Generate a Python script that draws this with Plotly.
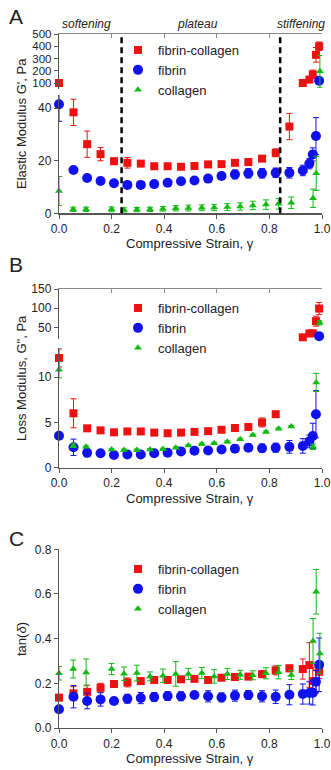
import plotly.graph_objects as go

# ---------------- data ----------------
fc_x = [0.0, 0.055, 0.107, 0.158, 0.209, 0.260, 0.311, 0.362, 0.413, 0.464, 0.515, 0.567,
        0.618, 0.669, 0.720, 0.772, 0.824, 0.876, 0.927, 0.952, 0.965, 0.977, 0.989]
fib_x = fc_x
col_x = [0.0, 0.054, 0.103, 0.200, 0.247, 0.296, 0.346, 0.395, 0.444, 0.492, 0.543, 0.590,
         0.640, 0.689, 0.737, 0.787, 0.835, 0.883, 0.966, 0.978, 0.992]

# Elastic modulus G' (Pa)
fc_G1 = [100, 38.4, 26.3, 22.5, 19.8, 19.2, 18.9, 17.9, 17.9, 17.7, 18.0, 18.6, 18.7, 19.2,
         19.5, 20.8, 23.0, 33.0, 100, 128, 170, 330, 400]
fc_G1_err = [4, 5, 5, 2.5, 1.2, 2, 0.8, 1, 0.8, 0.8, 0.8, 0.8, 1, 0.8, 1, 1, 1.5, 5, 5, 20, 35, 60, 35]
fib_G1 = [41.5, 16.5, 13.4, 12.3, 11.4, 10.8, 10.8, 11.1, 11.6, 12.2, 12.5, 13.2, 14.2, 14.8,
          15.2, 15.2, 15.4, 15.4, 16.3, 18.9, 22.4, 29.4, 118]
fib_G1_err = [6.5, 0.5, 0.5, 0.5, 0.5, 0.5, 0.5, 0.5, 0.6, 0.8, 1.0, 1.3, 1.3, 1.7, 1.8, 1.8,
              1.8, 2.0, 2.0, 2.0, 2.5, 7.0, 5]
col_G1 = [8.5, 1.5, 1.5, 1.5, 1.3, 1.4, 1.5, 1.7, 1.9, 2.0, 2.1, 2.2, 2.4, 2.6, 3.0, 3.3, 3.6,
          4.0, 5.7, 15.2, 195]
col_G1_err = [5.5, 0.8, 0.8, 0.9, 0.8, 0.8, 0.8, 0.9, 1.0, 1.1, 1.1, 1.2, 1.3, 1.4, 1.6, 1.8,
              2.0, 2.2, 3.5, 6.5, 130]

# Loss modulus G'' (Pa)
fc_G2 = [12.1, 6.0, 4.34, 4.12, 3.9, 4.0, 4.0, 3.87, 3.8, 3.87, 3.95, 4.03, 4.18, 4.38, 4.49,
         4.99, 5.9, None, 23.9, 34.0, 34.5, 66, 99]
fc_G2_err = [1.0, 1.6, 0.2, 0.2, 0.2, 0.15, 0.3, 0.2, 0.15, 0.2, 0.2, 0.2, 0.3, 0.3, 0.2, 0.5,
             0.2, None, 2, 3, 3, 13, 16]
fib_G2 = [3.53, 2.25, 1.65, 1.6, 1.4, 1.45, 1.45, 1.6, 1.65, 1.8, 1.88, 1.9, 2.0, 2.1, 2.2,
          2.15, 2.2, 2.3, 2.4, 2.9, 3.5, 5.9, 27]
fib_G2_err = [0.3, 0.9, 0.45, 0.3, 0.2, 0.2, 0.2, 0.2, 0.2, 0.2, 0.2, 0.3, 0.35, 0.4, 0.4,
              0.45, 0.5, 0.7, 0.8, 0.7, 1.4, 2.6, 2]
col_G2 = [10.8, 2.43, 2.3, 2.0, 1.95, 1.95, 2.0, 2.05, 2.2, 2.45, 2.6, 2.7, 2.85, 3.15, 3.6,
          3.95, 4.3, 4.55, 2.3, 9.4, 62]
col_G2_err = [0.9, 0.2, 0.1, 0.1, 0.1, 0.1, 0.1, 0.1, 0.1, 0.1, 0.1, 0.1, 0.1, 0.1, 0.1, 0.1,
              0.1, 0.1, 0.3, 1.0, 6]

# tan(delta)
fc_tan = [0.136, 0.155, 0.162, 0.18, 0.197, 0.204, 0.21, 0.215, 0.215, 0.218, 0.22, 0.215,
          0.225, 0.228, 0.23, 0.241, 0.258, 0.267, 0.264, 0.282, 0.21, 0.21, 0.252]
fc_tan_err = [0.01, 0.03, 0.03, 0.02, 0.008, 0.02, 0.015, 0.008, 0.008, 0.008, 0.008, 0.008,
              0.01, 0.015, 0.008, 0.015, 0.02, 0.015, 0.045, 0.1, 0.06, 0.05, 0.03]
fib_tan = [0.084, 0.14, 0.121, 0.128, 0.121, 0.131, 0.134, 0.139, 0.143, 0.142, 0.148, 0.142,
           0.137, 0.145, 0.148, 0.142, 0.14, 0.149, 0.152, 0.157, 0.158, 0.207, 0.283]
fib_tan_err = [0.008, 0.05, 0.035, 0.03, 0.015, 0.02, 0.025, 0.02, 0.02, 0.02, 0.008, 0.025,
               0.02, 0.025, 0.02, 0.025, 0.03, 0.045, 0.045, 0.05, 0.055, 0.05, 0.12]
col_tan = [0.245, 0.264, 0.249, 0.264, 0.243, 0.246, 0.231, 0.234, 0.242, 0.242, 0.246, 0.231,
           0.242, 0.238, 0.236, 0.245, 0.25, 0.237, 0.39, 0.61, 0.334]
col_tan_err = [0.03, 0.04, 0.06, 0.025, 0.03, 0.035, 0.02, 0.03, 0.055, 0.025, 0.025, 0.03,
               0.025, 0.02, 0.02, 0.025, 0.03, 0.02, 0.1, 0.1, 0.09]

x_ticks = [0, 0.2, 0.4, 0.6, 0.8, 1.0]
x_ticktext = ["0.0", "0.2", "0.4", "0.6", "0.8", "1.0"]
regions = ["softening", "plateau", "stiffening"]
region_x = [0.105, 0.525, 0.92]
boundaries = [0.238, 0.841]

# ---------------- style ----------------
W, H = 331, 770
FONT = "Liberation Sans, Arial, sans-serif"
RED, BLUE, GREEN = "#ee1111", "#1111ee", "#11bb11"
AX = "#555555"
FR = "#8a8a8a"
series = [
    ("fibrin-collagen", RED, "square", 8),
    ("fibrin", BLUE, "circle", 10),
    ("collagen", GREEN, "triangle-up", 7),
]

def px(x):
    return x / W

def py(y):
    return 1 - y / H

XD = [px(59), px(322)]

fig = go.Figure()
layout = {}

def yax(name, top, bot, rng, tickvals, ticktext, anchor, fs=12):
    layout[name] = dict(domain=[py(bot), py(top)], range=rng, anchor=anchor, automargin=False,
                        tickvals=tickvals, ticktext=ticktext, ticks="outside", ticklen=4,
                        tickcolor=AX, showline=True, linecolor=AX, linewidth=1.2,
                        showgrid=False, zeroline=False,
                        tickfont=dict(family=FONT, size=fs, color="#222"))

def xax(name, anchor, labels=True, side="bottom", match=None):
    d = dict(domain=XD, range=[0, 1], anchor=anchor, side=side, showgrid=False, zeroline=False,
             showline=True, linewidth=1.2, automargin=False)
    if labels:
        d.update(tickvals=x_ticks, ticktext=x_ticktext, ticks="outside", ticklen=4,
                 tickcolor=AX, linecolor=AX, tickfont=dict(family=FONT, size=12, color="#222"))
    else:
        d.update(tickvals=[0.2, 0.4, 0.6, 0.8], showticklabels=False, ticks="inside", ticklen=4,
                 tickcolor=FR, linecolor=FR)
    if match:
        d["matches"] = match
    layout[name] = d

def right_ax(name, over, anchor, top, bot, rng, tickvals):
    layout[name] = dict(domain=[py(bot), py(top)], range=rng, overlaying=over, side="right",
                        anchor=anchor, tickvals=tickvals, showticklabels=False, automargin=False,
                        ticks="inside", ticklen=4, tickcolor=FR, showline=True, linecolor=FR,
                        linewidth=1.2, showgrid=False, zeroline=False)

def add_series(xs, ys, es, name, color, sym, size, xa, ya, lo, hi, legend, show):
    px_, py_, pe = [], [], []
    for x, y, e in zip(xs, ys, es):
        if y is not None and lo <= y <= hi:
            px_.append(x); py_.append(y); pe.append(e)
    fig.add_trace(go.Scatter(
        x=px_, y=py_, mode="markers", name=name, xaxis=xa, yaxis=ya,
        marker=dict(symbol=sym, size=size, color=color, line=dict(width=0)),
        error_y=dict(type="data", array=pe, color=color, thickness=1, width=3, visible=True),
        cliponaxis=False, showlegend=show, legend=legend, hoverinfo="skip"))

# ---------- Panel A ----------
A_top, A_ub, A_lt, A_bot = 34, 89, 95, 213.3
xax("xaxis", "y")
yax("yaxis", A_lt, A_bot, [0, 45], [0, 20, 40], ["0", "20", "40"], "x")
xax("xaxis2", "y2", labels=False, side="top", match="x")
yax("yaxis2", A_top, A_ub, [51, 500], [100, 200, 300, 400, 500],
    ["100", "200", "300", "400", "500"], "x2", fs=11.5)
right_ax("yaxis3", "y", "x", A_lt, A_bot, [0, 45], [0, 20, 40])
right_ax("yaxis4", "y2", "x2", A_top, A_ub, [51, 500], [100, 200, 300, 400, 500])

dataA = [(fc_x, fc_G1, fc_G1_err), (fib_x, fib_G1, fib_G1_err), (col_x, col_G1, col_G1_err)]
for (name, c, s, sz), (xs, ys, es) in zip(series, dataA):
    add_series(xs, ys, es, name, c, s, sz, "x", "y", 0, 45, "legend", True)
    add_series(xs, ys, es, name, c, s, sz, "x2", "y2", 51, 500, "legend", False)

# ---------- Panel B ----------
B_top, B_ub, B_lt, B_bot = 289, 339, 348, 467.7
xax("xaxis3", "y5")
yax("yaxis5", B_lt, B_bot, [0, 13.2], [0, 5, 10], ["0", "5", "10"], "x3")
xax("xaxis4", "y6", labels=False, side="top", match="x3")
yax("yaxis6", B_top, B_ub, [19.5, 150], [50, 100, 150], ["50", "100", "150"], "x4")
right_ax("yaxis7", "y5", "x3", B_lt, B_bot, [0, 13.2], [0, 5, 10])
right_ax("yaxis8", "y6", "x4", B_top, B_ub, [19.5, 150], [50, 100, 150])

dataB = [(fc_x, fc_G2, fc_G2_err), (fib_x, fib_G2, fib_G2_err), (col_x, col_G2, col_G2_err)]
for (name, c, s, sz), (xs, ys, es) in zip(series, dataB):
    add_series(xs, ys, es, name, c, s, sz, "x3", "y5", 0, 13.2, "legend2", True)
    add_series(xs, ys, es, name, c, s, sz, "x4", "y6", 19.5, 150, "legend2", False)

# ---------- Panel C ----------
C_top, C_bot = 549.3, 728
xax("xaxis5", "y9")
yax("yaxis9", C_top, C_bot, [0, 0.8], [0, 0.2, 0.4, 0.6, 0.8], ["0.0", "0.2", "0.4", "0.6", "0.8"], "x5")
xax("xaxis6", "y9", labels=False, side="top", match="x5")
layout["xaxis6"]["overlaying"] = "x5"
right_ax("yaxis10", "y9", "x5", C_top, C_bot, [0, 0.8], [0, 0.2, 0.4, 0.6, 0.8])

dataC = [(fc_x, fc_tan, fc_tan_err), (fib_x, fib_tan, fib_tan_err), (col_x, col_tan, col_tan_err)]
for (name, c, s, sz), (xs, ys, es) in zip(series, dataC):
    add_series(xs, ys, es, name, c, s, sz, "x5", "y9", 0, 0.8, "legend3", True)

# ---------- shapes: dashed boundaries ----------
shapes = []
for b in boundaries:
    shapes.append(dict(type="line", xref="x", yref="paper", x0=b, x1=b, y0=py(A_bot), y1=py(A_top),
                       line=dict(color="black", width=2.5, dash="6px,4px")))

# ---------- annotations ----------
ann = []
def text(x, y, s, size=13, angle=0, italic=False, xanchor="center"):
    ann.append(dict(x=px(x), y=py(y), xref="paper", yref="paper", text=s, showarrow=False,
                    textangle=angle, xanchor=xanchor, yanchor="middle",
                    font=dict(family=FONT, size=size, color="#222",
                              style="italic" if italic else "normal")))

for lbl, rx in zip(regions, region_x):
    ann.append(dict(x=rx, y=py(24), xref="x", yref="paper", text=lbl, showarrow=False,
                    yanchor="middle", font=dict(family=FONT, size=12, color="#222", style="italic")))

text(16, 17, "A", size=21)
text(16, 265, "B", size=21)
text(16, 538, "C", size=21)
text(21, 124, "Elastic Modulus G', Pa", angle=-90)
text(21, 378, "Loss Modulus, G\", Pa", angle=-90)
text(21, 639, "tan(<i>δ</i>)", angle=-90)
for yy in (243, 498, 758):
    text(190, yy, "Compressive Strain, γ")

legend_common = dict(xanchor="left", yanchor="top", bgcolor="rgba(0,0,0,0)",
                     font=dict(family=FONT, size=13, color="#222"), itemsizing="trace")
layout["legend"] = dict(x=px(118), y=py(35), **legend_common)
layout["legend2"] = dict(x=px(118), y=py(293), **legend_common)
layout["legend3"] = dict(x=px(118), y=py(554), **legend_common)

fig.update_layout(width=W, height=H, margin=dict(l=0, r=0, t=0, b=0, pad=0, autoexpand=False),
                  paper_bgcolor="white", plot_bgcolor="white", hovermode=False,
                  shapes=shapes, annotations=ann, **layout)

fig.write_html("out.html", config={"displayModeBar": False, "staticPlot": True},
               post_script="document.body.style.margin='0';document.body.style.overflow='hidden';")
